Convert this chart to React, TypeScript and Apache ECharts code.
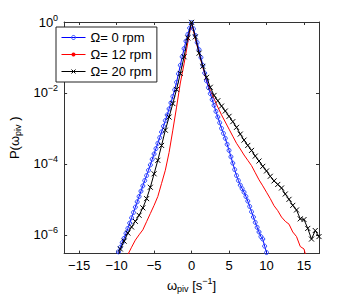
import React, { useEffect, useRef } from "react";
import * as echarts from "echarts";

// ---- data (P values given as log10 P) ----
const seriesNames = ["Ω= 0 rpm", "Ω= 12 rpm", "Ω= 20 rpm"];

const blueOmega = [
  -10, -9.75, -9.5, -9.25, -9, -8.75, -8.5, -8.25, -8, -7.75, -7.5, -7.25, -7, -6.75, -6.5, -6.25,
  -6, -5.75, -5.5, -5.25, -5, -4.75, -4.5, -4.25, -4, -3.75, -3.5, -3.25, -3, -2.75, -2.5, -2.25,
  -2, -1.75, -1.5, -1.25, -1, -0.75, -0.5, -0.25, 0, 0.25, 0.5, 0.75, 1, 1.25, 1.5, 1.75,
  2, 2.25, 2.5, 2.75, 3, 3.25, 3.5, 3.75, 4, 4.25, 4.5, 4.75, 5, 5.25, 5.5, 5.75,
  6, 6.25, 6.5, 6.75, 7, 7.25, 7.5, 7.75, 8, 8.25, 8.5, 8.75, 9, 9.25, 9.5, 9.75, 10, 10.25,
];
const blueLog10P = [
  -6.62, -6.48, -6.35, -6.22, -6.1, -5.96, -5.82, -5.67, -5.52, -5.37, -5.22, -5.07, -4.92, -4.77, -4.62, -4.47,
  -4.33, -4.18, -4.03, -3.87, -3.72, -3.57, -3.42, -3.26, -3.1, -2.94, -2.78, -2.62, -2.45, -2.28, -2.1, -1.91,
  -1.7, -1.46, -1.22, -0.98, -0.75, -0.54, -0.35, -0.17, -0.02, -0.19, -0.38, -0.58, -0.78, -1.0, -1.22, -1.44,
  -1.66, -1.85, -2.02, -2.19, -2.35, -2.52, -2.68, -2.84, -3.0, -3.14, -3.28, -3.45, -3.62, -3.8, -3.98, -4.16,
  -4.33, -4.47, -4.6, -4.7, -4.8, -4.92, -5.05, -5.2, -5.35, -5.5, -5.65, -5.79, -5.92, -6.05, -6.12, -6.32, -6.5, -6.7,
];

const redOmega = [
  -9, -8.5, -8, -7.5, -7, -6.5, -6, -5.5, -5, -4.5, -4, -3.5, -3, -2.5, -2, -1.5, -1, -0.5,
  0, 0.5, 1, 1.5, 2, 2.5, 3, 3.5, 4, 4.5, 5, 5.5, 6, 6.5, 7, 7.5, 8, 8.5, 9, 9.5,
  10, 10.5, 11, 11.5, 12, 12.5, 13, 13.5, 14, 14.5, 15, 15.5,
];
const redLog10P = [
  -6.75, -6.56, -6.35, -6.15, -6.0, -5.86, -5.63, -5.4, -5.17, -4.92, -4.55, -4.18, -3.68, -3.05, -2.4, -1.72, -1.18, -0.58,
  -0.01, -0.48, -0.88, -1.28, -1.66, -1.93, -2.16, -2.4, -2.62, -2.82, -3.02, -3.22, -3.42, -3.58, -3.75, -3.9, -4.05, -4.25, -4.45, -4.62,
  -4.8, -4.98, -5.18, -5.32, -5.5, -5.62, -5.7, -5.92, -6.05, -6.33, -6.4, -6.8,
];

const blackOmega = [
  -10, -9.5, -9, -8.5, -8, -7.5, -7, -6.5, -6, -5.5, -5, -4.5, -4, -3.5, -3, -2.5, -2, -1.5, -1, -0.5,
  0, 0.5, 1, 1.5, 2, 2.5, 3, 3.5, 4, 4.5, 5, 5.5, 6, 6.5, 7, 7.5, 8, 8.5, 9, 9.5,
  10, 10.5, 11, 11.5, 12, 12.5, 13, 13.5, 14, 14.5, 15, 15.5, 16, 16.5, 17,
];
const blackLog10P = [
  -6.8, -6.4, -6.18, -5.95, -5.78, -5.62, -5.45, -5.24, -4.98, -4.66, -4.28, -3.9, -3.48, -3.05, -2.68, -2.3, -1.9, -1.45, -0.98, -0.45,
  -0.01, -0.42, -0.88, -1.25, -1.56, -1.84, -2.07, -2.22, -2.37, -2.51, -2.66, -2.81, -2.97, -3.16, -3.33, -3.48, -3.62, -3.78, -3.92, -4.07,
  -4.2, -4.35, -4.48, -4.58, -4.68, -4.85, -5.0, -5.17, -5.3, -5.55, -5.57, -5.82, -6.12, -5.88, -6.05,
];

const xTicks = [-15, -10, -5, 0, 5, 10, 15];
const yTicks = [1e-6, 1e-4, 1e-2, 1];

const FONT = "'Liberation Sans', Arial, Helvetica, sans-serif";

const toData = (xs: number[], ls: number[]) => xs.map((x, i) => [x, Math.pow(10, ls[i])]);

export default function App() {
  const ref = useRef<HTMLDivElement>(null);

  useEffect(() => {
    if (!ref.current) return;
    const chart = echarts.init(ref.current, null, { renderer: "svg" });
    const axisColor = "#333";
    const minus = (v: number) => String(v).replace("-", "\u2212");
    const yFmt = (v: number) => {
      const e = Math.round(Math.log10(v));
      return `{b|10}{e|${minus(e)}}`;
    };
    const baseX = {
      type: "value",
      min: -17,
      max: 17,
      splitLine: { show: false },
      axisLine: { show: true, onZero: false, lineStyle: { color: axisColor, width: 1 } },
      axisTick: { show: true, inside: true, length: 3, customValues: xTicks, lineStyle: { color: axisColor } },
    };
    const baseY = {
      type: "log",
      logBase: 10,
      min: Math.pow(10, -6.53),
      max: 1,
      splitLine: { show: false },
      minorTick: { show: false },
      axisLine: { show: true, onZero: false, lineStyle: { color: axisColor, width: 1 } },
      axisTick: { show: true, inside: true, length: 3, customValues: yTicks, lineStyle: { color: axisColor } },
    };

    chart.setOption({
      animation: false,
      backgroundColor: "#fff",
      textStyle: { fontFamily: FONT },
      grid: { left: 52, right: 35, top: 22, bottom: 42, containLabel: false },
      legend: {
        left: 56,
        top: 27,
        orient: "vertical",
        data: seriesNames,
        backgroundColor: "#fff",
        borderColor: "#222",
        borderWidth: 1,
        borderRadius: 0,
        padding: [4, 5, 4, 5],
        itemGap: 4,
        itemWidth: 24,
        itemHeight: 5,
        itemTextGap: 4,
        lineStyle: { width: 1 },
        itemStyle: { borderWidth: 1 },
        textStyle: { fontSize: 13, color: "#000", fontFamily: FONT },
      },
      xAxis: [
        {
          ...baseX,
          position: "bottom",
          axisLabel: {
            customValues: xTicks,
            formatter: (v: number) => minus(v),
            fontSize: 13,
            color: "#000",
            margin: 5,
            fontFamily: FONT,
          },
          name: "ω{sub|piv} [s{sup|\u22121}]",
          nameLocation: "middle",
          nameGap: 22,
          nameTextStyle: {
            fontSize: 13,
            color: "#000",
            fontFamily: FONT,
            rich: {
              sub: { fontSize: 9, padding: [7, 0, 0, 0], fontFamily: FONT, color: "#000" },
              sup: { fontSize: 9, padding: [0, 0, 8, 0], fontFamily: FONT, color: "#000" },
            },
          },
        },
        { ...baseX, position: "top", axisLabel: { show: false } },
      ],
      yAxis: [
        {
          ...baseY,
          position: "left",
          axisLabel: {
            customValues: yTicks,
            formatter: yFmt,
            margin: 6,
            color: "#000",
            rich: {
              b: { fontSize: 13, fontFamily: FONT, color: "#000" },
              e: { fontSize: 9, padding: [0, 0, 9, 0], fontFamily: FONT, color: "#000" },
            },
          },
          name: "P(ω{sub|piv} )",
          nameLocation: "middle",
          nameRotate: 90,
          nameGap: 34,
          nameTextStyle: {
            fontSize: 13,
            color: "#000",
            fontFamily: FONT,
            rich: {
              sub: { fontSize: 9, padding: [7, 0, 0, 0], fontFamily: FONT, color: "#000" },
            },
          },
        },
        { ...baseY, position: "right", axisLabel: { show: false } },
      ],
      series: [
        {
          name: seriesNames[0],
          type: "line",
          data: toData(blueOmega, blueLog10P),
          symbol: "circle",
          symbolSize: 4,
          lineStyle: { color: "#0000ff", width: 1 },
          itemStyle: { color: "rgba(0,0,0,0)", borderColor: "#2a48ff", borderWidth: 1 },
          emphasis: { disabled: true },
          clip: true,
          z: 3,
        },
        {
          name: seriesNames[1],
          type: "line",
          data: toData(redOmega, redLog10P),
          symbol: "none",
          lineStyle: { color: "#ff0000", width: 1 },
          itemStyle: { color: "#ff0000" },
          emphasis: { disabled: true },
          clip: true,
          z: 2,
        },
        {
          name: seriesNames[2],
          type: "line",
          data: toData(blackOmega, blackLog10P),
          symbol: "path://M0,0L10,10M10,0L0,10",
          symbolSize: 5,
          lineStyle: { color: "#000", width: 1 },
          itemStyle: { color: "rgba(0,0,0,0)", borderColor: "#000", borderWidth: 1 },
          emphasis: { disabled: true },
          clip: true,
          z: 4,
        },
      ],
    });
    return () => chart.dispose();
  }, []);

  return (
    <div
      ref={ref}
      style={{ position: "fixed", left: 0, top: 0, width: 354, height: 298, background: "#fff" }}
    />
  );
}
